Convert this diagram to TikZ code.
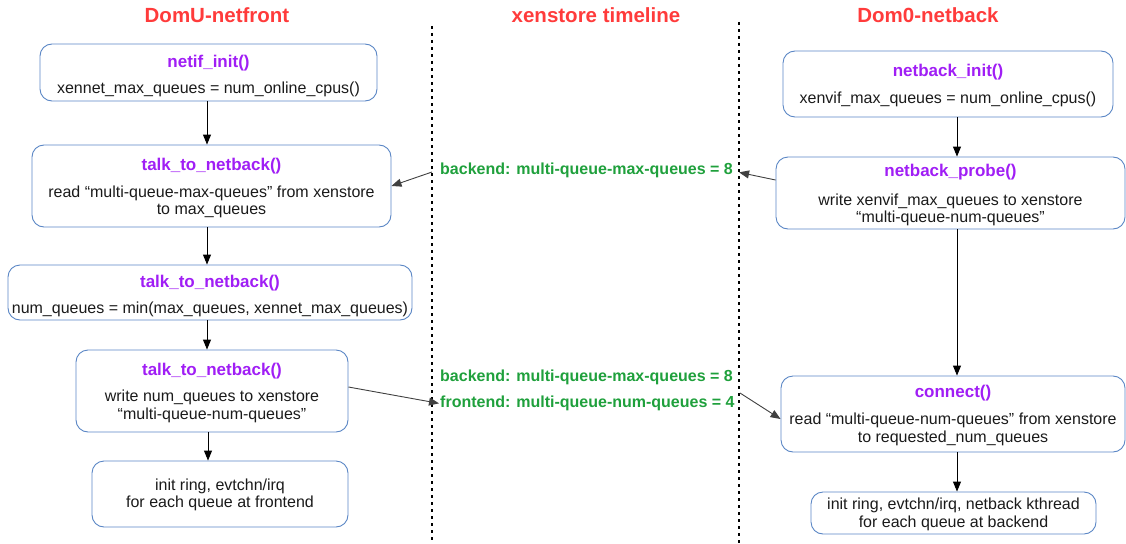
\documentclass[tikz,border=0pt]{standalone}
\usepackage{fontspec}
\setmainfont{Liberation Sans}
\usetikzlibrary{arrows.meta}
\definecolor{hdred}{HTML}{FF3B3B}
\definecolor{fnpurple}{HTML}{A01EF5}
\definecolor{xsgreen}{HTML}{1FA03C}
\definecolor{boxblue}{HTML}{5A86C5}
\definecolor{bodytxt}{HTML}{1A1A1A}
\begin{document}
\begin{tikzpicture}[x=1pt,y=-1pt,
  box/.style={draw=boxblue, line width=0.9pt, rounded corners=12pt, inner sep=0pt},
  hdr/.style={anchor=base, text=hdred, font=\fontsize{20.5}{24}\selectfont\bfseries, inner sep=0pt},
  fn/.style={anchor=base, text=fnpurple, font=\fontsize{17}{20}\selectfont\bfseries, inner sep=0pt},
  body/.style={anchor=base, text=bodytxt, align=center, font=\fontsize{16}{17.5}\selectfont, inner sep=0pt},
  xs/.style={anchor=base west, text=xsgreen, font=\fontsize{16}{18}\selectfont\bfseries, inner sep=0pt},
  timeline/.style={line width=1.6pt, dash pattern=on 2.8pt off 4.2pt},
  arr/.style={line width=0.9pt, -{Triangle[length=10pt,width=8pt]}},
]
\useasboundingbox (0,0) rectangle (1126,543);

% column headings
\node[hdr] (hfront) at (217,23) {DomU-netfront};
\node[hdr] (hstore) at (596,23) {xenstore timeline};
\node[hdr] (hback)  at (928,23) {Dom0-netback};

% xenstore timelines
\draw[timeline] (432,26) -- (432,543);
\draw[timeline] (739,22) -- (739,543);

% frontend boxes (two-line texts are placed by their last baseline)
\node[box, minimum width=337pt, minimum height=57pt] (f1) at (208.5,72.5) {};
\node[fn]   (f1t) at (208.5,67) {netif\_init()};
\node[body] (f1b) at (208.5,93) {xennet\_max\_queues = num\_online\_cpus()};

\node[box, minimum width=359pt, minimum height=82pt] (f2) at (211.5,186) {};
\node[fn]   (f2t) at (211.5,170) {talk\_to\_netback()};
\node[body] (f2b) at (211.5,214.5) {read “multi-queue-max-queues” from xenstore\\to max\_queues};

\node[box, minimum width=404pt, minimum height=55pt] (f3) at (210,292.5) {};
\node[fn]   (f3t) at (210,287) {talk\_to\_netback()};
\node[body] (f3b) at (210,313) {num\_queues = min(max\_queues, xennet\_max\_queues)};

\node[box, minimum width=272pt, minimum height=82pt] (f4) at (212,391) {};
\node[fn]   (f4t) at (212,375) {talk\_to\_netback()};
\node[body] (f4b) at (212,419.3) {write num\_queues to xenstore\\“multi-queue-num-queues”};

\node[box, minimum width=256pt, minimum height=66pt] (f5) at (220,494) {};
\node[body] (f5b) at (220,507.5) {init ring, evtchn/irq\\for each queue at frontend};

% backend boxes
\node[box, minimum width=330pt, minimum height=66pt] (k1) at (948,84) {};
\node[fn]   (k1t) at (948,76) {netback\_init()};
\node[body] (k1b) at (948,103.5) {xenvif\_max\_queues = num\_online\_cpus()};

\node[box, minimum width=349pt, minimum height=72pt] (k2) at (950.5,193) {};
\node[fn]   (k2t) at (950.5,176.5) {netback\_probe()};
\node[body] (k2b) at (950.5,222.7) {write xenvif\_max\_queues to xenstore\\“multi-queue-num-queues”};

\node[box, minimum width=344pt, minimum height=76pt] (k3) at (953,414) {};
\node[fn]   (k3t) at (953,397.5) {connect()};
\node[body] (k3b) at (953,442.3) {read “multi-queue-num-queues” from xenstore\\to requested\_num\_queues};

\node[box, minimum width=285pt, minimum height=42pt] (k4) at (953.5,513) {};
\node[body] (k4b) at (953.5,527.3) {init ring, evtchn/irq, netback kthread\\for each queue at backend};

% xenstore entries
\node[xs] (x1) at (440,174.5) {backend: multi-queue-max-queues = 8};
\node[xs] (x2) at (440,381.5) {backend: multi-queue-max-queues = 8};
\node[xs] (x3) at (440,407.5) {frontend: multi-queue-num-queues = 4};

% points where arrows leave the timelines, and the two flow columns
\coordinate (t1) at (432,172);
\coordinate (t2) at (740,393);
\coordinate (fc) at (207,0);
\coordinate (kc) at (957,0);

% frontend flow
\draw[arr] (fc |- f1.south) -- (fc |- f2.north);
\draw[arr] (fc |- f2.south) -- (fc |- f3.north);
\draw[arr] (fc |- f3.south) -- (fc |- f4.north);
\draw[arr] ([xshift=1pt]fc |- f4.south) -- ([xshift=1pt]fc |- f5.north);

% backend flow
\draw[arr] (kc |- k1.south) -- (kc |- k2.north);
\draw[arr] (kc |- k2.south) -- (kc |- k3.north);
\draw[arr] (kc |- k3.south) -- (kc |- k4.north);

% xenstore exchanges
\draw[arr, draw=black!75] ([yshift=13pt]k2.west) -- ([xshift=6pt,yshift=-2pt]x1.east);
\draw[arr, draw=black!75] (t1) -- (f2.east);
\draw[arr, draw=black!75] ([yshift=4pt]f4.east) -- ([xshift=-1pt]x3.west);
\draw[arr, draw=black!75] (t2) -- ([yshift=-5pt]k3.west);
\end{tikzpicture}
\end{document}
